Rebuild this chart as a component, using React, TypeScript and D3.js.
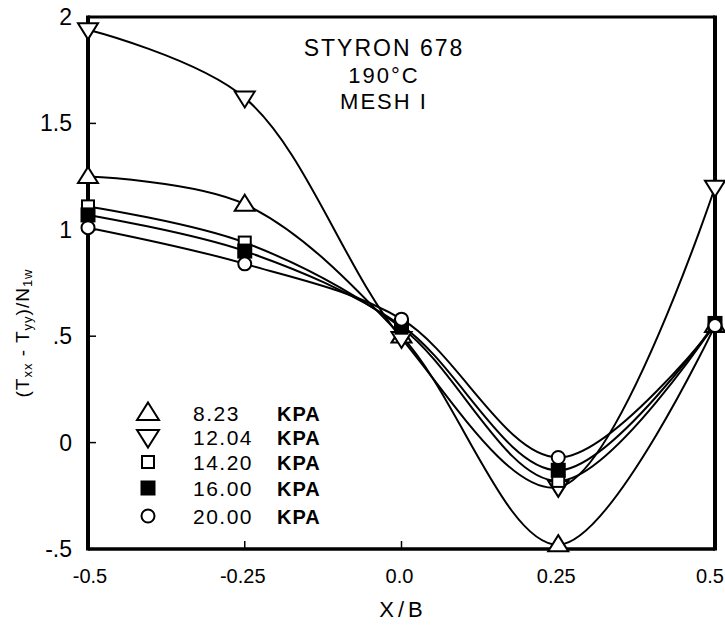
import React from "react";
import * as d3 from "d3";

const xPositions = [-0.5, -0.25, 0, 0.25, 0.5];
const seriesNames = ["8.23", "12.04", "14.20", "16.00", "20.00"];
const seriesMarkers = ["triUp", "triDown", "square", "squareFilled", "circle"];
const s823 = [1.25, 1.12, 0.5, -0.48, 0.55];
const s1204 = [1.94, 1.62, 0.49, -0.21, 1.2];
const s1420 = [1.11, 0.94, 0.54, -0.18, 0.56];
const s1600 = [1.07, 0.9, 0.55, -0.13, 0.56];
const s2000 = [1.01, 0.84, 0.58, -0.07, 0.55];
const seriesValues = [s823, s1204, s1420, s1600, s2000];
const yTicks = [2, 1.5, 1, 0.5, 0, -0.5];
const yTickLabels = ["2", "1.5", "1", ".5", "0", "-.5"];
const xTicks = [-0.5, -0.25, 0, 0.25, 0.5];
const xTickLabels = ["-0.5", "-0.25", "0.0", "0.25", "0.5"];
const titleLines = ["STYRON 678", "190°C", "MESH I"];

const FONT = "'Liberation Sans', Arial, sans-serif";

function Marker({ type, x, y, s = 1 }: { type: string; x: number; y: number; s?: number }) {
  const sw = 2;
  if (type === "triUp") {
    const h = 16 * s, w = 20 * s;
    return <path d={`M${x},${y - h * 0.6}L${x + w / 2},${y + h * 0.4}L${x - w / 2},${y + h * 0.4}Z`} fill="white" stroke="black" strokeWidth={sw} strokeLinejoin="miter" />;
  }
  if (type === "triDown") {
    const h = 16 * s, w = 20 * s;
    return <path d={`M${x},${y + h * 0.6}L${x + w / 2},${y - h * 0.4}L${x - w / 2},${y - h * 0.4}Z`} fill="white" stroke="black" strokeWidth={sw} />;
  }
  if (type === "square") {
    const a = 12 * s;
    return <rect x={x - a / 2} y={y - a / 2} width={a} height={a} fill="white" stroke="black" strokeWidth={sw} />;
  }
  if (type === "squareFilled") {
    const a = 13 * s;
    return <rect x={x - a / 2} y={y - a / 2} width={a} height={a} fill="black" stroke="black" strokeWidth={sw} />;
  }
  return <circle cx={x} cy={y} r={6.5 * s} fill="white" stroke="black" strokeWidth={sw} />;
}

export default function App() {
  const W = 725, H = 625;
  const x = d3.scaleLinear().domain([-0.5, 0.5]).range([88, 715]);
  const y = d3.scaleLinear().domain([-0.5, 2]).range([549, 17]);
  const line = d3
    .line<[number, number]>()
    .x((d) => x(d[0]))
    .y((d) => y(d[1]))
    .curve(d3.curveCatmullRom.alpha(0.5));

  const legendRows = [413, 437, 462, 488, 516];

  return (
    <svg width={W} height={H} style={{ position: "absolute", left: 0, top: 0, background: "white" }} fontFamily={FONT}>
      <rect width={W} height={H} fill="white" />
      {seriesValues.map((vals, i) => (
        <path
          key={"l" + i}
          d={line(xPositions.map((p, j) => [p, vals[j]] as [number, number])) || ""}
          fill="none"
          stroke="black"
          strokeWidth={2}
        />
      ))}
      <line x1={x(-0.5)} y1={y(2)} x2={x(0.5)} y2={y(2)} stroke="black" strokeWidth={3} />
      <line x1={x(-0.5)} y1={y(-0.5)} x2={x(0.5)} y2={y(-0.5)} stroke="black" strokeWidth={3.5} />
      <line x1={x(-0.5)} y1={y(2) - 1.5} x2={x(-0.5)} y2={y(-0.5) + 1.5} stroke="black" strokeWidth={4} />
      <line x1={x(0.5)} y1={y(2) - 1.5} x2={x(0.5)} y2={y(-0.5) + 1.5} stroke="black" strokeWidth={4} />
      {yTicks.map((t) => (
        <line key={"yt" + t} x1={x(-0.5)} x2={x(-0.5) + 8} y1={y(t)} y2={y(t)} stroke="black" strokeWidth={1.5} />
      ))}
      {xTicks.map((t) => (
        <line key={"xt" + t} x1={x(t)} x2={x(t)} y1={y(-0.5)} y2={y(-0.5) - 8} stroke="black" strokeWidth={1.5} />
      ))}
      {seriesValues.map((vals, i) =>
        vals.map((v, j) => <Marker key={`m${i}-${j}`} type={seriesMarkers[i]} x={x(xPositions[j])} y={y(v)} />)
      )}
      {yTicks.map((t, i) => (
        <text key={"ytl" + t} x={72} y={y(t) + 8} textAnchor="end" fontSize={23}>
          {yTickLabels[i]}
        </text>
      ))}
      {xTicks.map((t, i) => (
        <text key={"xtl" + t} x={x(t) - (i === 4 ? 5 : i === 0 ? -2 : 2)} y={583} textAnchor="middle" fontSize={20}>
          {xTickLabels[i]}
        </text>
      ))}
      <text x={403} y={617} textAnchor="middle" fontSize={22} letterSpacing={4}>X/B</text>
      <text transform="translate(29,333) rotate(-90)" textAnchor="middle" fontSize={19} letterSpacing={1}>
        (T<tspan fontSize={13} dy={3}>xx</tspan>
        <tspan dy={-3}> - T</tspan>
        <tspan fontSize={13} dy={3}>yy</tspan>
        <tspan dy={-3}>)/N</tspan>
        <tspan fontSize={13} dy={3}>1w</tspan>
      </text>
      {titleLines.map((t, i) => (
        <text key={"tt" + i} x={384} y={56 + i * 26.5} textAnchor="middle" fontSize={i === 0 ? 23 : 22} letterSpacing={2}>
          {t}
        </text>
      ))}
      {seriesNames.map((n, i) => (
        <g key={"lg" + i}>
          <Marker type={seriesMarkers[i]} x={148} y={legendRows[i]} s={i < 2 ? 1.1 : 1} />
          <text x={193} y={legendRows[i] + 8} fontSize={21} letterSpacing={1.5}>{n}</text>
          <text x={277} y={legendRows[i] + 8} fontSize={20} fontWeight="bold" letterSpacing={1}>KPA</text>
        </g>
      ))}
    </svg>
  );
}
